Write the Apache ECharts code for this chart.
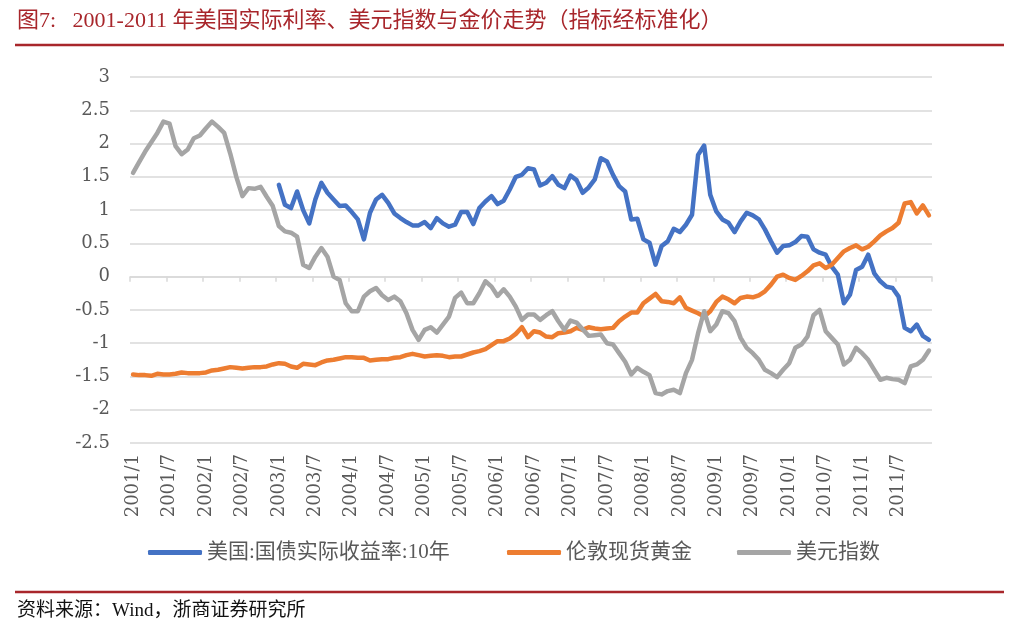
<!DOCTYPE html>
<html>
<head>
<meta charset="utf-8">
<script src="https://cdn.jsdelivr.net/npm/echarts@6/dist/echarts.min.js"></script>
<style>
html,body{margin:0;padding:0;background:#fff;}
#chart{width:1015px;height:634px;}
</style>
</head>
<body>
<div id="chart"></div>
<script>
// ---- data ----
var startYear = 2001, endYear = 2011;
var categories = [];
for (var y = startYear; y <= endYear; y++) {
  for (var m = 1; m <= 12; m++) categories.push(y + '/' + m);
}
var seriesNames = ['美国:国债实际收益率:10年', '伦敦现货黄金', '美元指数'];

// 美国:国债实际收益率:10年 (starts 2003/1)
var realYield = [
  null,null,null,null,null,null,null,null,null,null,null,null,
  null,null,null,null,null,null,null,null,null,null,null,null,
  1.38,1.08,1.03,1.28,1.00,0.80,1.16,1.41,1.26,1.16,1.06,1.07,
  0.97,0.86,0.56,0.96,1.16,1.23,1.11,0.95,0.88,0.82,0.77,0.77,
  0.82,0.73,0.88,0.80,0.75,0.78,0.97,0.97,0.79,1.03,1.13,1.21,
  1.09,1.14,1.31,1.50,1.53,1.63,1.61,1.37,1.41,1.51,1.38,1.33,
  1.52,1.45,1.26,1.34,1.46,1.78,1.73,1.53,1.36,1.28,0.86,0.87,
  0.56,0.51,0.18,0.46,0.53,0.72,0.67,0.78,0.93,1.83,1.97,1.23,
  0.98,0.86,0.81,0.67,0.83,0.96,0.92,0.86,0.71,0.53,0.36,0.46,
  0.47,0.52,0.61,0.60,0.41,0.36,0.33,0.15,0.03,-0.40,-0.27,0.10,
  0.15,0.33,0.05,-0.07,-0.15,-0.17,-0.30,-0.77,-0.82,-0.72,-0.89,-0.95
];

// 伦敦现货黄金
var gold = [
  -1.47,-1.48,-1.48,-1.49,-1.46,-1.47,-1.47,-1.46,-1.44,-1.45,-1.45,-1.45,
  -1.44,-1.41,-1.40,-1.38,-1.36,-1.37,-1.38,-1.37,-1.36,-1.36,-1.35,-1.32,
  -1.30,-1.31,-1.35,-1.37,-1.31,-1.32,-1.33,-1.29,-1.26,-1.25,-1.23,-1.21,
  -1.21,-1.22,-1.22,-1.26,-1.25,-1.24,-1.24,-1.22,-1.21,-1.18,-1.16,-1.18,
  -1.20,-1.19,-1.18,-1.19,-1.21,-1.20,-1.20,-1.17,-1.14,-1.12,-1.09,-1.03,
  -0.97,-0.97,-0.93,-0.86,-0.76,-0.91,-0.82,-0.84,-0.90,-0.91,-0.85,-0.84,
  -0.82,-0.77,-0.80,-0.76,-0.78,-0.79,-0.78,-0.77,-0.67,-0.60,-0.54,-0.54,
  -0.40,-0.33,-0.26,-0.37,-0.38,-0.40,-0.31,-0.47,-0.51,-0.55,-0.60,-0.52,
  -0.38,-0.30,-0.34,-0.40,-0.32,-0.30,-0.31,-0.28,-0.22,-0.12,0.00,0.03,
  -0.02,-0.05,0.01,0.08,0.17,0.20,0.13,0.18,0.28,0.38,0.43,0.47,
  0.41,0.45,0.53,0.62,0.68,0.73,0.81,1.10,1.12,0.95,1.07,0.92
];

// 美元指数
var usdIndex = [
  1.56,1.72,1.88,2.02,2.16,2.33,2.30,1.96,1.84,1.91,2.08,2.12,
  2.23,2.33,2.25,2.16,1.85,1.50,1.21,1.33,1.32,1.35,1.20,1.06,
  0.76,0.68,0.66,0.60,0.18,0.13,0.30,0.43,0.30,0.00,-0.05,-0.40,
  -0.52,-0.52,-0.30,-0.22,-0.17,-0.28,-0.35,-0.30,-0.37,-0.55,-0.80,-0.95,
  -0.80,-0.76,-0.84,-0.72,-0.60,-0.32,-0.24,-0.40,-0.40,-0.25,-0.07,-0.15,
  -0.29,-0.19,-0.30,-0.45,-0.65,-0.57,-0.57,-0.65,-0.58,-0.52,-0.67,-0.80,
  -0.66,-0.69,-0.79,-0.89,-0.88,-0.87,-1.00,-1.02,-1.15,-1.28,-1.47,-1.37,
  -1.43,-1.48,-1.75,-1.77,-1.72,-1.70,-1.75,-1.45,-1.25,-0.85,-0.52,-0.82,
  -0.72,-0.52,-0.55,-0.67,-0.92,-1.07,-1.15,-1.25,-1.40,-1.45,-1.51,-1.40,
  -1.30,-1.07,-1.02,-0.90,-0.58,-0.50,-0.82,-0.92,-1.02,-1.32,-1.25,-1.07,
  -1.15,-1.25,-1.40,-1.55,-1.52,-1.54,-1.55,-1.60,-1.35,-1.32,-1.25,-1.11
];

var yMin = -2.5, yMax = 3, yStep = 0.5;
var colors = ['#4472C4', '#ED7D31', '#A5A5A5'];

// ---- chart ----
var chart = echarts.init(document.getElementById('chart'), null, {renderer: 'canvas'});
var serifCJK = '"DejaVu Serif", "Noto Sans CJK SC", serif';
var legendFont = '"Liberation Serif", "Noto Sans CJK SC", serif';
var red = '#a8262b';

function lineSeries(name, data, color) {
  return {
    name: name, type: 'line', data: data, xAxisIndex: 0, yAxisIndex: 0,
    symbol: 'none', smooth: false, connectNulls: false,
    lineStyle: {color: color, width: 4.5, cap: 'round', join: 'round'},
    itemStyle: {color: color},
    emphasis: {disabled: true}, animation: false
  };
}
function legendAt(name, left) {
  return {
    data: [name], left: left, top: 542, padding: 0,
    icon: 'roundRect', itemWidth: 54, itemHeight: 5, itemGap: 10,
    textStyle: {color: '#595959', fontSize: 21, fontFamily: legendFont},
    selectedMode: false
  };
}

chart.setOption({
  backgroundColor: '#fff',
  animation: false,
  color: colors,
  grid: {left: 130, right: 83, top: 77, bottom: 191, containLabel: false},
  legend: [
    legendAt(seriesNames[0], 148),
    legendAt(seriesNames[1], 507),
    legendAt(seriesNames[2], 737)
  ],
  xAxis: [
    {
      type: 'category', data: categories, boundaryGap: true, position: 'bottom',
      axisLine: {show: false, onZero: false},
      axisTick: {show: false},
      axisLabel: {interval: 5, rotate: 90, margin: 11, color: '#595959', fontSize: 18, fontFamily: serifCJK},
      splitLine: {show: false}
    },
    {
      type: 'category', data: categories, boundaryGap: true, position: 'bottom',
      axisLine: {show: true, onZero: true, lineStyle: {color: '#d9d9d9', width: 1.5}},
      axisTick: {show: true, interval: 5, length: 5, lineStyle: {color: '#d9d9d9', width: 1.5}},
      axisLabel: {show: false},
      splitLine: {show: false}
    }
  ],
  yAxis: {
    type: 'value', min: yMin, max: yMax, interval: yStep,
    axisLine: {show: false}, axisTick: {show: false},
    axisLabel: {color: '#595959', fontSize: 18, fontFamily: serifCJK, margin: 20},
    splitLine: {lineStyle: {color: '#d9d9d9', width: 1.5}}
  },
  series: [
    lineSeries(seriesNames[0], realYield, colors[0]),
    lineSeries(seriesNames[1], gold, colors[1]),
    lineSeries(seriesNames[2], usdIndex, colors[2])
  ],
  graphic: [
    {type: 'text', left: 17, top: 10, style: {text: '图7:   2001-2011 年美国实际利率、美元指数与金价走势（指标经标准化）', fill: red, font: '22px "Liberation Serif", "Noto Sans CJK SC", serif'}},
    {type: 'line', shape: {x1: 15, y1: 45, x2: 1004, y2: 45}, style: {stroke: red, lineWidth: 2.5}},
    {type: 'line', shape: {x1: 15, y1: 592, x2: 1004, y2: 592}, style: {stroke: red, lineWidth: 2.5}},
    {type: 'text', left: 17, top: 602, style: {text: '资料来源：Wind，浙商证券研究所', fill: '#111', font: '19px "Liberation Serif", "Noto Sans CJK SC", serif'}}
  ]
});
</script>
</body>
</html>
